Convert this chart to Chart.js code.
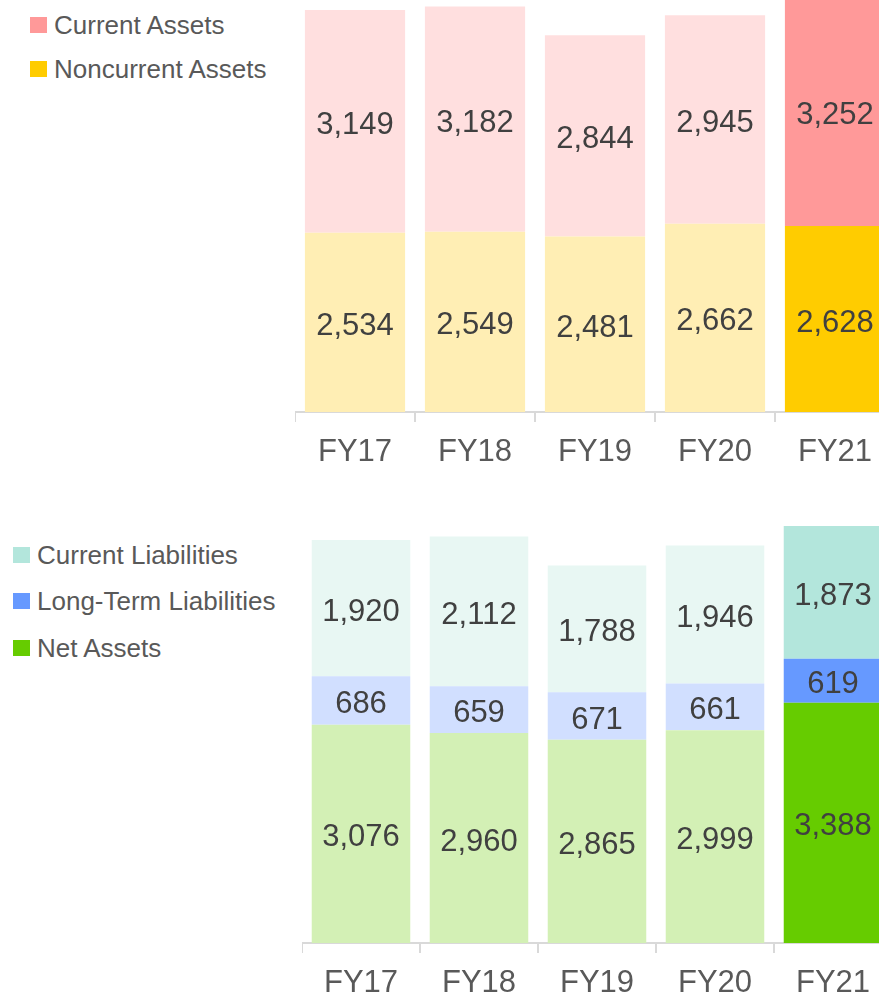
<!DOCTYPE html>
<html>
<head>
<meta charset="utf-8">
<script src="https://cdn.jsdelivr.net/npm/chart.js@4/dist/chart.umd.min.js"></script>
<style>
  html, body { margin: 0; padding: 0; width: 879px; height: 994px; overflow: hidden; background: #fff; }
  #wrap { position: relative; width: 879px; height: 994px; overflow: hidden; }
  canvas { position: absolute; }
  .legend { position: absolute; left: 0; top: 0; font-family: "Liberation Sans", Arial, sans-serif; font-size: 26px; color: #595959; }
  .legend .item { position: absolute; white-space: nowrap; display: flex; align-items: center; height: 30px; line-height: 30px; }
  .legend .sw { width: 17px; height: 16px; margin-right: 7px; flex: none; }
</style>
</head>
<body>
<div id="wrap">
  <canvas id="assets" width="600" height="482" style="left:295px; top:0px;"></canvas>
  <canvas id="liab" width="590" height="513" style="left:302px; top:500px;"></canvas>
  <div class="legend" id="legAssets"></div>
  <div class="legend" id="legLiab"></div>
</div>
<script>
// Fiscal years and balance-sheet figures
const YEARS = ['FY17', 'FY18', 'FY19', 'FY20', 'FY21'];
const CURRENT_ASSETS = [3149, 3182, 2844, 2945, 3252];
const NONCURRENT_ASSETS = [2534, 2549, 2481, 2662, 2628];
const CURRENT_LIABILITIES = [1920, 2112, 1788, 1946, 1873];
const LONG_TERM_LIABILITIES = [686, 659, 671, 661, 619];
const NET_ASSETS = [3076, 2960, 2865, 2999, 3388];

const FONT = '"Liberation Sans", Arial, sans-serif';
const LATEST = YEARS.length - 1;

// latest year in full colour, earlier years in the pale tint
function shade(strong, pale) {
  return YEARS.map((_, i) => (i === LATEST ? strong : pale));
}

function fmt(v) {
  return String(v).replace(/\B(?=(\d{3})+(?!\d))/g, ',');
}

// value printed in the middle of each stacked segment
const segmentLabels = {
  id: 'segmentLabels',
  afterDatasetsDraw(chart) {
    const ctx = chart.ctx;
    ctx.save();
    ctx.font = '31px ' + FONT;
    ctx.fillStyle = '#404040';
    ctx.textAlign = 'center';
    ctx.textBaseline = 'middle';
    chart.data.datasets.forEach((ds, i) => {
      chart.getDatasetMeta(i).data.forEach((bar, j) => {
        ctx.fillText(fmt(ds.data[j]), bar.x, (bar.y + bar.base) / 2 + 4);
      });
    });
    ctx.restore();
  }
};

function options(yMax) {
  return {
    responsive: false,
    animation: false,
    events: [],
    layout: { padding: 0 },
    plugins: { legend: { display: false }, tooltip: { enabled: false } },
    scales: {
      x: {
        stacked: true,
        offset: true,
        afterFit(scale) { scale.height = 70; },
        border: { display: true, color: '#D9D9D9', width: 2 },
        grid: { offset: true, drawOnChartArea: false, drawTicks: true, tickLength: 10, color: '#D9D9D9', lineWidth: 2 },
        ticks: { color: '#595959', font: { family: FONT, size: 31 }, padding: 12 }
      },
      y: { stacked: true, display: false, min: 0, max: yMax }
    }
  };
}

function bars(label, data, strong, pale) {
  return {
    label, data,
    backgroundColor: shade(strong, pale),
    borderWidth: 0,
    categoryPercentage: 1.0,
    barPercentage: 0.835
  };
}

const assetSets = [
  bars('Noncurrent Assets', NONCURRENT_ASSETS, '#FFCC00', '#FFEEB4'),
  bars('Current Assets', CURRENT_ASSETS, '#FF9999', '#FFDFDF')
];
const liabSets = [
  bars('Net Assets', NET_ASSETS, '#66CC00', '#D3F0B5'),
  bars('Long-Term Liabilities', LONG_TERM_LIABILITIES, '#6699FF', '#D1DFFF'),
  bars('Current Liabilities', CURRENT_LIABILITIES, '#B3E6DC', '#E8F7F3')
];

new Chart(document.getElementById('assets'), {
  type: 'bar',
  data: { labels: YEARS, datasets: assetSets },
  options: options(5824),
  plugins: [segmentLabels]
});

new Chart(document.getElementById('liab'), {
  type: 'bar',
  data: { labels: YEARS, datasets: liabSets },
  options: options(6246),
  plugins: [segmentLabels]
});

// legends list the top segment first
function legend(id, sets, left, tops) {
  const box = document.getElementById(id);
  sets.slice().reverse().forEach((ds, k) => {
    const item = document.createElement('div');
    item.className = 'item';
    item.style.left = left + 'px';
    item.style.top = tops[k] + 'px';
    const sw = document.createElement('span');
    sw.className = 'sw';
    sw.style.background = ds.backgroundColor[LATEST];
    const tx = document.createElement('span');
    tx.textContent = ds.label;
    item.appendChild(sw);
    item.appendChild(tx);
    box.appendChild(item);
  });
}
legend('legAssets', assetSets, 30, [10, 54]);
legend('legLiab', liabSets, 13, [540, 586, 633]);
</script>
</body>
</html>
